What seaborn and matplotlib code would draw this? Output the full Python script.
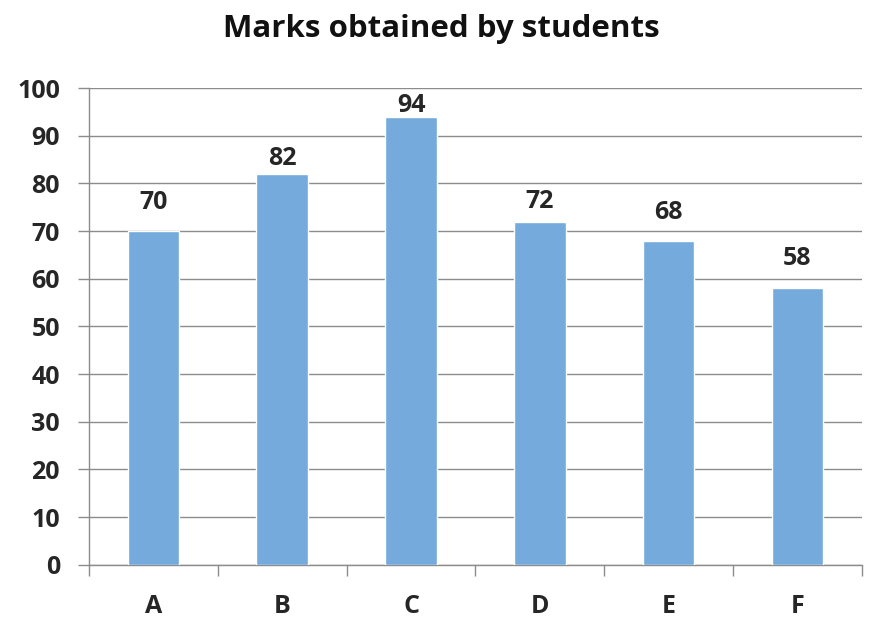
import matplotlib
matplotlib.use("Agg")
import matplotlib.pyplot as plt
import seaborn as sns
import pandas as pd
import numpy as np

categories = ["A", "B", "C", "D", "E", "F"]
marks = [70, 82, 94, 72, 68, 58]
y_ticks = [0, 10, 20, 30, 40, 50, 60, 70, 80, 90, 100]
title = "Marks obtained by students"

# label gap above each bar (points), as placed in the reference
label_gap_pt = [15.8, 6.5, 3.6, 9.5, 15.8, 16.5]

sns.set_theme(style="white")
plt.rcParams["font.family"] = ["Open Sans", "DejaVu Sans"]

df = pd.DataFrame({"Student": categories, "Marks": marks})

fig = plt.figure(figsize=(8.82, 6.2), dpi=100)
ax = fig.add_axes([0.101, 0.089, 0.876, 0.769])

sns.barplot(data=df, x="Student", y="Marks", color="#74AADC", width=0.4,
            saturation=1, ax=ax, zorder=3)

ax.set_ylim(0, 100)
ax.set_xlim(-0.5, len(categories) - 0.5)
ax.set_yticks(y_ticks)
ax.yaxis.grid(True, color="#8c8c8c", linewidth=1.0, zorder=0)
ax.set_axisbelow(True)
for s in ["top", "right"]:
    ax.spines[s].set_visible(False)
for s in ["left", "bottom"]:
    ax.spines[s].set_color("#8c8c8c")
    ax.spines[s].set_linewidth(1.0)

ax.tick_params(axis="y", which="major", length=8, width=1.0, color="#8c8c8c",
               labelsize=18, pad=13, direction="out", left=True)
ax.set_xticks(np.arange(len(categories)))
ax.set_xticklabels(categories)
ax.set_xticks(np.arange(-0.5, len(categories)), minor=True)
ax.tick_params(axis="x", which="major", length=0, labelsize=18, pad=21)
ax.tick_params(axis="x", which="minor", length=8, width=1.0, color="#8c8c8c",
               direction="out", bottom=True)
for lab in ax.get_xticklabels() + ax.get_yticklabels():
    lab.set_fontweight("bold")
    lab.set_color("#262626")

ax.set_xlabel("")
ax.set_ylabel("")

bars = ax.containers[0]
for rect, v, gap in zip(bars, marks, label_gap_pt):
    ax.annotate(str(v), xy=(rect.get_x() + rect.get_width() / 2, rect.get_height()),
                xytext=(0, gap), textcoords="offset points",
                ha="center", va="baseline", fontsize=18, fontweight="bold",
                color="#262626", zorder=5)

fig.text(0.5, 0.953, title, ha="center", va="center", fontsize=22.5,
         fontweight="bold", color="#111111")

fig.savefig("out.png", dpi=100, facecolor="white")
